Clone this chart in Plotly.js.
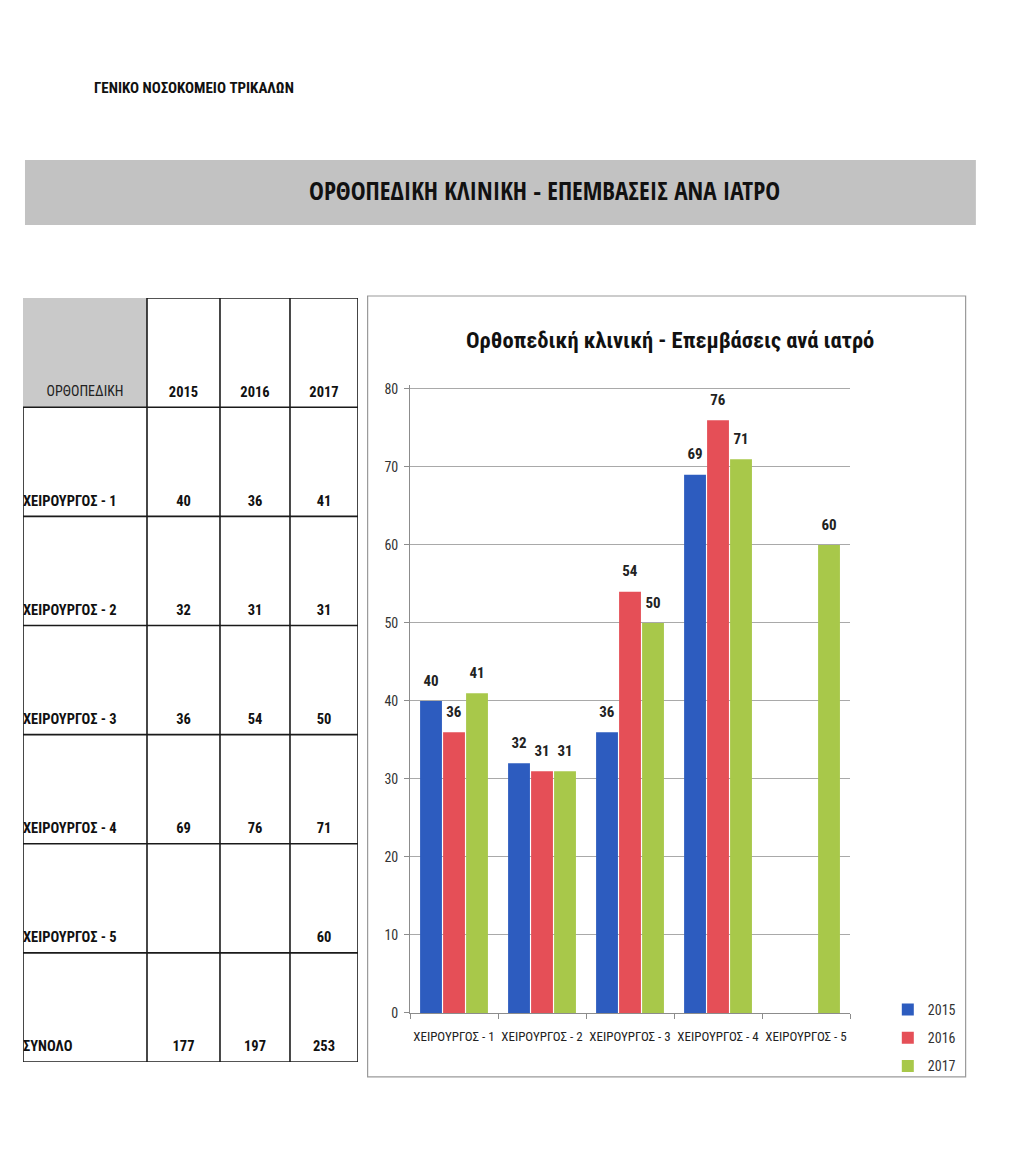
<!DOCTYPE html>
<html>
<head>
<meta charset="utf-8">
<script src="https://cdn.plot.ly/plotly-3.0.1.min.js"></script>
<style>html,body{margin:0;padding:0;background:#fff;}#chart{width:1024px;height:1149px;}</style>
</head>
<body>
<div id="chart"></div>
<script>
// ---------- data ----------
const pageHeader = "ΓΕΝΙΚΟ ΝΟΣΟΚΟΜΕΙΟ ΤΡΙΚΑΛΩΝ";
const bannerTitle = "ΟΡΘΟΠΕΔΙΚΗ ΚΛΙΝΙΚΗ - ΕΠΕΜΒΑΣΕΙΣ ΑΝΑ ΙΑΤΡΟ";
const chartTitle = "Ορθοπεδική κλινική - Επεμβάσεις ανά ιατρό";
const tableCorner = "ΟΡΘΟΠΕΔΙΚΗ";
const surgeons = ["ΧΕΙΡΟΥΡΓΟΣ - 1", "ΧΕΙΡΟΥΡΓΟΣ - 2", "ΧΕΙΡΟΥΡΓΟΣ - 3", "ΧΕΙΡΟΥΡΓΟΣ - 4", "ΧΕΙΡΟΥΡΓΟΣ - 5"];
const totalLabel = "ΣΥΝΟΛΟ";
const years = ["2015", "2016", "2017"];
const v2015 = [40, 32, 36, 69, null];
const v2016 = [36, 31, 54, 76, null];
const v2017 = [41, 31, 50, 71, 60];
const totals = [177, 197, 253];
const yTicks = [0, 10, 20, 30, 40, 50, 60, 70, 80];

// ---------- style ----------
const colors = ["#2d5cbf", "#e54f57", "#a8c84a"];
const COND = "'Roboto Condensed', 'Open Sans Condensed', 'DejaVu Sans Condensed', sans-serif";
const BANNER = "'Open Sans Condensed', 'Roboto Condensed', sans-serif";
const colEdges = [0, 124, 197, 267, 335];   // table column edges (table axis units)
const nRows = 7;                            // header + 5 surgeons + total

const series = [v2015, v2016, v2017];
const traces = series.map((vals, i) => ({
  type: "bar",
  name: years[i],
  x: surgeons,
  y: vals,
  marker: {color: colors[i]},
  text: vals.map(v => v == null ? "" : String(v)),
  texttemplate: '<span style="font-size:15px;font-weight:bold">%{text}</span><br>\u00a0',
  textposition: "outside",
  constraintext: "none",
  cliponaxis: false,
  textfont: {family: COND, size: 8, color: "#222"},
  legendgroup: "g" + i,
  hoverinfo: "skip",
  xaxis: "x", yaxis: "y"
}));

// table text via a second (hidden) axis pair
const colCenters = [];
for (let c = 0; c < colEdges.length - 1; c++) colCenters.push((colEdges[c] + colEdges[c + 1]) / 2);
const textRowOffset = 0.87;

traces.push({
  type: "scatter", mode: "text", showlegend: false, hoverinfo: "skip",
  x: [colCenters[0]], y: [textRowOffset], text: [tableCorner],
  textfont: {family: COND, size: 14, color: "#222"},
  xaxis: "x2", yaxis: "y2", cliponaxis: false
});
traces.push({
  type: "scatter", mode: "text", showlegend: false, hoverinfo: "skip",
  x: colCenters.slice(1), y: years.map(() => textRowOffset), text: years.map(y => "<b>" + y + "</b>"),
  textfont: {family: COND, size: 14.5, color: "#111"},
  xaxis: "x2", yaxis: "y2", cliponaxis: false
});
const rowLabels = surgeons.concat([totalLabel]);
traces.push({
  type: "scatter", mode: "text", showlegend: false, hoverinfo: "skip",
  x: rowLabels.map(() => colEdges[0]), y: rowLabels.map((_, r) => r + 1 + textRowOffset),
  text: rowLabels.map(l => "<b>" + l + "</b>"), textposition: "middle right",
  textfont: {family: COND, size: 14.5, color: "#111"},
  xaxis: "x2", yaxis: "y2", cliponaxis: false
});
const tableCols = series.map((vals, i) => vals.concat([totals[i]]));
tableCols.forEach((col, i) => {
  traces.push({
    type: "scatter", mode: "text", showlegend: false, hoverinfo: "skip",
    x: col.map(() => colCenters[i + 1]), y: col.map((_, r) => r + 1 + textRowOffset),
    text: col.map(v => v == null ? "" : "<b>" + v + "</b>"),
    textfont: {family: COND, size: 14.5, color: "#111"},
    xaxis: "x2", yaxis: "y2", cliponaxis: false
  });
});

const shapes = [];
shapes.push({type: "rect", xref: "x2", yref: "y2", x0: colEdges[0], x1: colEdges[1], y0: 0, y1: 1,
  fillcolor: "#c9c9c9", line: {width: 0}, layer: "below"});
colEdges.forEach((xe, c) => {
  shapes.push({type: "line", xref: "x2", yref: "y2", x0: xe, x1: xe, y0: c === 0 ? 1 : 0, y1: nRows,
    line: {color: "#1a1a1a", width: 1.6}});
});
for (let r = 0; r <= nRows; r++) {
  shapes.push({type: "line", xref: "x2", yref: "y2", x0: r === 0 ? colEdges[1] : colEdges[0], x1: colEdges[colEdges.length - 1],
    y0: r, y1: r, line: {color: "#1a1a1a", width: 1.6}});
}
shapes.push({type: "rect", xref: "paper", yref: "paper", x0: 0.0244, x1: 0.953, y0: 0.8042, y1: 0.8607,
  fillcolor: "#c2c2c2", line: {width: 0}, layer: "below"});
shapes.push({type: "rect", xref: "paper", yref: "paper", x0: 0.359, x1: 0.943, y0: 0.0627, y1: 0.7424,
  fillcolor: "rgba(0,0,0,0)", line: {color: "#9a9a9a", width: 1.2}, layer: "below"});

const annotations = [
  {text: "<b>" + pageHeader + "</b>", xref: "paper", yref: "paper", x: 0.0898, y: 0.9234,
   xanchor: "left", yanchor: "middle", showarrow: false, font: {family: COND, size: 15, color: "#111"}},
  {text: "<b>" + bannerTitle + "</b>", xref: "paper", yref: "paper", x: 0.532, y: 0.8346,
   xanchor: "center", yanchor: "middle", showarrow: false, font: {family: BANNER, size: 25, color: "#111"}},
  {text: "<b>" + chartTitle + "</b>", xref: "paper", yref: "paper", x: 0.654, y: 0.704,
   xanchor: "center", yanchor: "middle", showarrow: false, font: {family: COND, size: 22.5, color: "#111"}}
];

const layout = {
  width: 1024, height: 1149,
  margin: {l: 0, r: 0, t: 0, b: 0},
  paper_bgcolor: "#fff", plot_bgcolor: "rgba(0,0,0,0)",
  barmode: "group", bargap: 0.216, bargroupgap: 0.05,
  showlegend: true,
  legend: {x: 0.867, y: 0.135, xanchor: "left", yanchor: "top", tracegroupgap: 7,
    font: {family: COND, size: 14, color: "#333"}, bgcolor: "rgba(0,0,0,0)", itemwidth: 30},
  xaxis: {domain: [0.4004, 0.8301], anchor: "y", type: "category", tickangle: 0,
    showline: true, linecolor: "#8c8c8c", linewidth: 1, ticks: "outside", tickson: "boundaries",
    ticklen: 5, tickcolor: "#8c8c8c", showgrid: false, zeroline: false, ticklabelstandoff: 11,
    tickfont: {family: COND, size: 13, color: "#222"}},
  yaxis: {domain: [0.1184, 0.6649], anchor: "x", range: [0, 80.5], tickvals: yTicks,
    showline: true, linecolor: "#8c8c8c", linewidth: 1, ticks: "outside", ticklen: 5, tickcolor: "#8c8c8c",
    showgrid: true, gridcolor: "#a9a9a9", gridwidth: 1, zeroline: false, ticklabelstandoff: 3,
    tickfont: {family: COND, size: 14, color: "#333"}},
  xaxis2: {domain: [0.02246, 0.3496], anchor: "y2", range: [colEdges[0], colEdges[colEdges.length - 1]],
    visible: false, fixedrange: true},
  yaxis2: {domain: [0.0757, 0.7406], anchor: "x2", range: [nRows, 0], visible: false, fixedrange: true},
  shapes: shapes,
  annotations: annotations
};

Plotly.newPlot("chart", traces, layout, {displayModeBar: false, staticPlot: true});
</script>
</body>
</html>
